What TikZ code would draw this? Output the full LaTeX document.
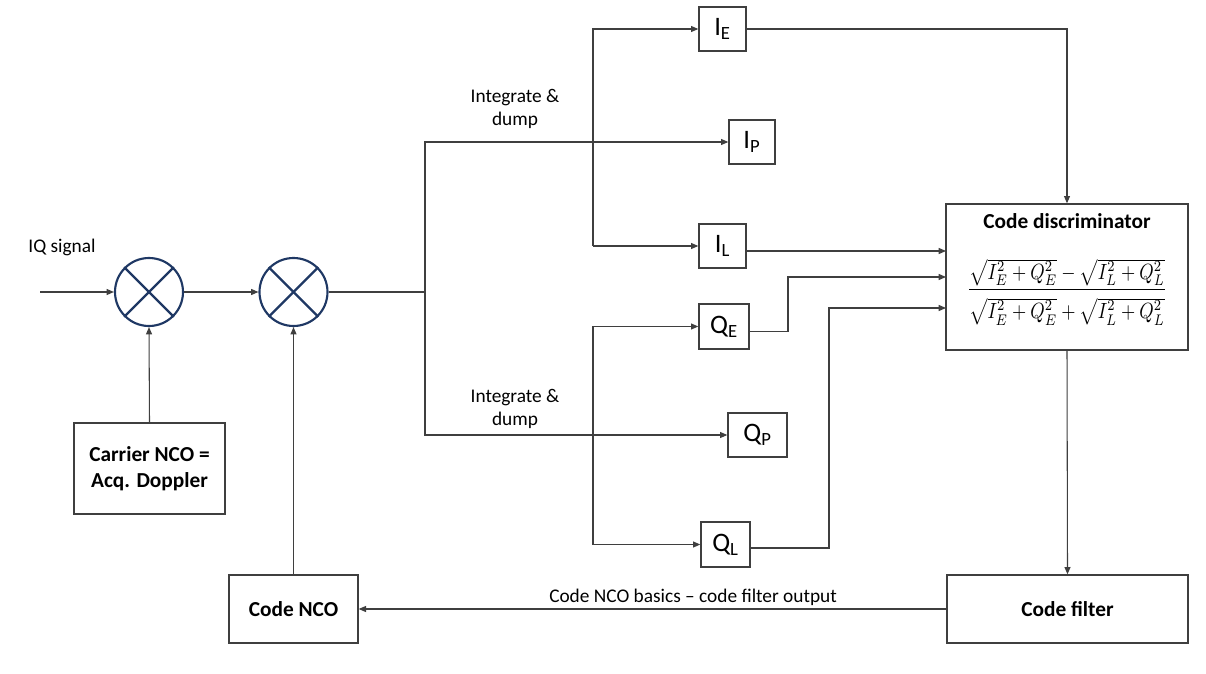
\documentclass[tikz,border=0pt]{standalone}
\usepackage{fontspec}
\usepackage{graphicx}
\setmainfont{Carlito}
\usetikzlibrary{arrows.meta,calc}
\definecolor{navy}{HTML}{1F3864}
\definecolor{ln}{HTML}{3F3F3F}
\tikzset{
  arr/.style={draw=ln, line width=0.8pt, -{Triangle[length=5.5pt,width=4.5pt]}},
  wire/.style={draw=ln, line width=0.8pt},
  box/.style={draw=ln, line width=1pt, rectangle, inner sep=0pt, align=center, fill=white},
  sig/.style={box, font=\fontsize{20}{22}\selectfont},
  blk/.style={box, font=\bfseries\fontsize{16}{19.5}\selectfont},
  mix/.style={circle, draw=navy, line width=1.6pt, minimum size={68*0.75pt}, inner sep=0pt},
  lbl/.style={font=\fontsize{14.5}{17.5}\selectfont, align=center, inner sep=0pt}
}
\begin{document}
\begin{tikzpicture}[x=0.75pt,y=-0.75pt]
\useasboundingbox (0,0) rectangle (1206,674);
% mixers
\node[mix] (m1) at (149,292) {};
\node[mix] (m2) at (293.5,292) {};
\foreach \m in {m1,m2}{
  \draw[navy, line width=1.6pt] (\m.north east) -- (\m.south west);
  \draw[navy, line width=1.6pt] (\m.north west) -- (\m.south east);
}
% blocks
\node[blk, minimum width={151*0.75pt}, minimum height={91*0.75pt}] (car) at (149.5,468.5) {Carrier NCO =\\Acq. Doppler};
\node[blk, minimum width={129*0.75pt}, minimum height={68*0.75pt}] (nco) at (293.5,609) {Code NCO};
\node[blk, minimum width={241*0.75pt}, minimum height={68*0.75pt}] (cf) at (1067.5,609) {Code filter};
\node[box, minimum width={242*0.75pt}, minimum height={146*0.75pt}] (disc) at (1067,277) {};
\node[font=\bfseries\fontsize{16}{19.5}\selectfont, inner sep=0pt] (dt) at (1067,221) {Code discriminator};
\node[inner sep=0pt] (fm) at (1067,292) {\scalebox{1}[1.2]{\resizebox{150pt}{!}{$\displaystyle\frac{\sqrt{I_E^2+Q_E^2}-\sqrt{I_L^2+Q_L^2}\rule[-1.5pt]{0pt}{1pt}}{\rule{0pt}{12pt}\sqrt{I_E^2+Q_E^2}+\sqrt{I_L^2+Q_L^2}}$}}};
% correlator outputs
\node[sig, minimum width={47*0.75pt}, minimum height={44*0.75pt}] (IE) at (722.5,29) {I\textsubscript{E}};
\node[sig, minimum width={46*0.75pt}, minimum height={44*0.75pt}] (IP) at (752,142) {I\textsubscript{P}};
\node[sig, minimum width={47*0.75pt}, minimum height={44*0.75pt}] (IL) at (722.5,246) {I\textsubscript{L}};
\node[sig, minimum width={50*0.75pt}, minimum height={45*0.75pt}] (QE) at (724,326.5) {Q\textsubscript{E}};
\node[sig, minimum width={59*0.75pt}, minimum height={44*0.75pt}] (QP) at (757.5,435) {Q\textsubscript{P}};
\node[sig, minimum width={49*0.75pt}, minimum height={45*0.75pt}] (QL) at (725.5,544.5) {Q\textsubscript{L}};
% labels
\node[lbl] (iq) at (62,247) {IQ signal};
\node[lbl] (id1) at (515,109) {Integrate \&\\dump};
\node[lbl] (id2) at (515,409) {Integrate \&\\dump};
% coordinates
\coordinate (in) at (40,292);
\coordinate (sp) at (425,292);
\coordinate (bI) at (593,0);
\coordinate (bQ) at (593,0);
\coordinate (d1) at (946,251);
\coordinate (d2) at (946,277);
\coordinate (d3) at (946,308);
\coordinate (k2) at (788,0);
\coordinate (k3) at (829,0);
% connectors
\draw[arr] (in) -- (m1.west);
\draw[arr] (m1.east) -- (m2.west);
\draw[wire] (m2.east) -- (sp);
\draw[arr] (sp) |- (IP.west);
\draw[arr] (sp) |- (QP.west);
\draw[arr] (bI |- IL.west) |- (IE.west);
\draw[arr] (bI |- IL.west) -- (IL.west);
\draw[arr] (bQ |- QL.west) |- (QE.west);
\draw[arr] (bQ |- QL.west) -- (QL.west);
\draw[arr] (IE.east) -| (disc.north);
\draw[arr] (IL.east |- d1) -- (d1);
\draw[arr] ([yshift=-3.4pt]QE.east) -| (k2 |- d2) -- (d2);
\draw[arr] ([yshift=-2.6pt]QL.east) -| (k3 |- d3) -- (d3);
\draw[arr] (disc.south) -- (cf.north);
\draw[arr] (cf.west) -- node[lbl, pos=0.431, above=2pt] (cl) {Code NCO basics -- code filter output} (nco.east);
\draw[arr] (nco.north) -- (m2.south);
\draw[arr] (car.north) -- (m1.south);
\end{tikzpicture}
\end{document}
